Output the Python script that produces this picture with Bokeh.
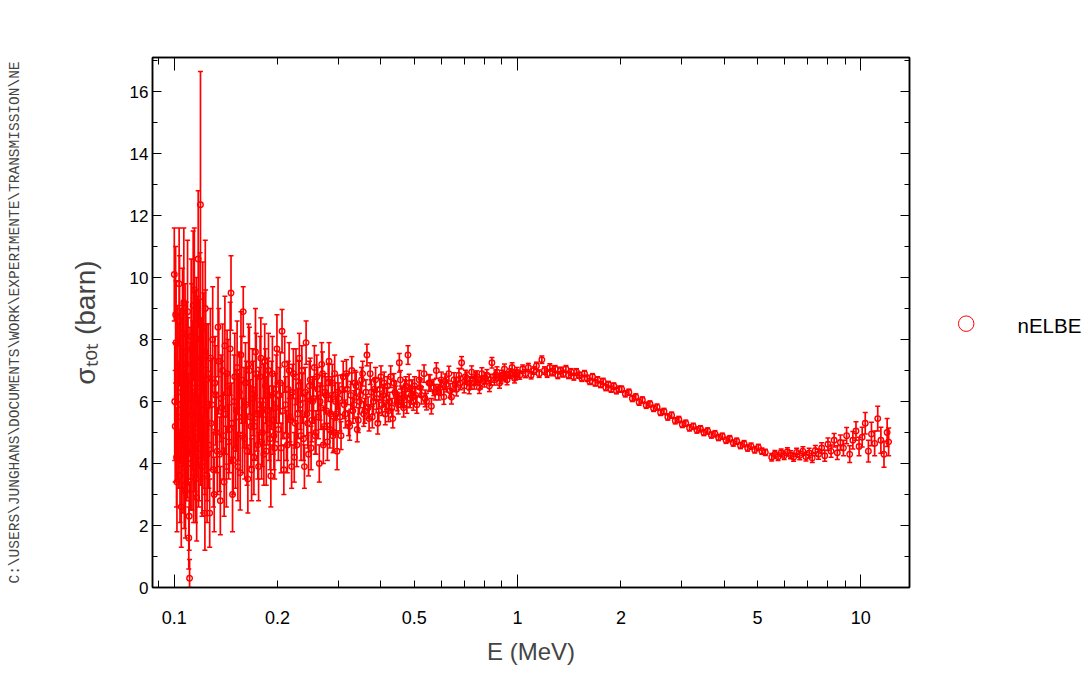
import numpy as np
from bokeh.plotting import figure
from bokeh.layouts import row
from bokeh.core.properties import value
from bokeh.models import (Range1d, LogAxis, LinearAxis, FixedTicker, SingleIntervalTicker,
                          ColumnDataSource, CustomJSTickFormatter)
from bokeh.embed import file_html
from bokeh.resources import INLINE

# ---------------- data ----------------
# segment A : 0.100 - 0.125 MeV
e_a = [0.1000, 0.1006, 0.1012, 0.1018, 0.1024, 0.1030, 0.1036, 0.1042, 0.1048, 0.1054,
       0.1060, 0.1066, 0.1072, 0.1078, 0.1084, 0.1090, 0.1096, 0.1102, 0.1108, 0.1114,
       0.1120, 0.1126, 0.1132, 0.1138, 0.1144, 0.1150, 0.1156, 0.1162, 0.1168, 0.1174,
       0.1180, 0.1186, 0.1192, 0.1198, 0.1204, 0.1210, 0.1216, 0.1222, 0.1228, 0.1234,
       0.1240, 0.1246]
s_a = [10.1, 5.2, 7.9, 3.4, 6.3, 4.6, 8.6, 5.9, 2.6, 6.8,
       4.1, 9.2, 5.4, 3.1, 7.2, 4.8, 6.1, 1.6, 0.3, 5.7,
       8.1, 4.3, 6.6, 3.7, 9.6, 5.0, 7.4, 2.9, 6.0, 10.6,
       4.5, 7.0, 12.35, 5.5, 3.9, 8.4, 6.4, 4.9, 2.4, 7.6,
       5.8, 3.6]
d_a = [1.5, 1.8, 2.0, 1.6, 2.2, 1.4, 2.1, 1.9, 1.3, 2.3,
       1.7, 2.4, 1.6, 1.5, 2.0, 1.9, 2.6, 1.0, 0.6, 2.2,
       2.5, 1.8, 2.0, 1.6, 2.0, 1.9, 2.2, 1.4, 2.1, 2.2,
       1.7, 2.3, 4.3, 2.0, 1.6, 2.1, 1.9, 1.7, 1.2, 2.0,
       1.8, 1.5]
e_a2 = [0.1003, 0.1009, 0.1015, 0.1021, 0.1027, 0.1033, 0.1039, 0.1045, 0.1051, 0.1057,
        0.1063, 0.1069, 0.1075, 0.1081, 0.1087, 0.1093, 0.1099, 0.1105, 0.1111, 0.1117,
        0.1123, 0.1129, 0.1135, 0.1141, 0.1147, 0.1153, 0.1159, 0.1165, 0.1171, 0.1177,
        0.1183, 0.1189, 0.1195, 0.1201, 0.1207, 0.1213, 0.1219, 0.1225, 0.1231, 0.1237,
        0.1243, 0.1249]
s_a2 = [6.0, 8.8, 4.2, 7.1, 5.5, 9.8, 3.6, 6.9, 4.9, 8.2,
        5.8, 3.3, 7.6, 6.2, 4.4, 8.9, 5.1, 2.3, 6.4, 4.0,
        7.7, 5.6, 9.1, 4.7, 6.3, 3.5, 8.0, 5.3, 7.3, 4.1,
        6.6, 8.6, 5.0, 6.8, 3.9, 5.9, 7.5, 4.6, 9.0, 5.4,
        6.7, 4.3]
d_a2 = [1.9, 2.2, 1.6, 2.0, 1.8, 1.8, 1.5, 2.1, 1.7, 2.1,
        1.9, 1.4, 2.2, 1.9, 1.6, 2.3, 1.8, 1.1, 2.0, 1.5,
        2.1, 1.8, 2.4, 1.6, 1.9, 1.4, 2.0, 1.7, 2.1, 1.5,
        1.9, 2.2, 1.7, 1.9, 1.5, 1.8, 2.0, 1.6, 2.2, 1.7,
        1.8, 1.5]

# segment B : 0.125 - 0.2 MeV
e_b = [0.1255, 0.1268, 0.1281, 0.1294, 0.1307, 0.1320, 0.1334, 0.1348, 0.1362, 0.1376,
       0.1390, 0.1404, 0.1418, 0.1433, 0.1448, 0.1463, 0.1478, 0.1493, 0.1508, 0.1524,
       0.1540, 0.1556, 0.1572, 0.1588, 0.1604, 0.1621, 0.1638, 0.1655, 0.1672, 0.1689,
       0.1706, 0.1724, 0.1742, 0.1760, 0.1778, 0.1796, 0.1815, 0.1834, 0.1853, 0.1872,
       0.1891, 0.1911, 0.1931, 0.1951, 0.1971, 0.1991]
s_b = [6.9, 2.4, 5.3, 8.0, 3.0, 6.2, 4.4, 7.3, 2.8, 5.8,
       4.9, 7.8, 3.9, 6.5, 5.1, 9.5, 3.0, 6.0, 4.5, 7.1,
       5.5, 3.7, 6.7, 8.9, 4.8, 5.9, 3.5, 7.0, 5.2, 6.4,
       4.2, 7.6, 5.6, 3.9, 6.8, 4.7, 5.9, 7.3, 4.4, 6.2,
       5.3, 3.6, 6.9, 4.9, 5.8, 7.7]
d_b = [1.6, 1.1, 1.5, 1.7, 1.2, 1.6, 1.4, 1.7, 1.1, 1.5,
       1.4, 1.6, 1.3, 1.5, 1.4, 1.2, 1.2, 1.5, 1.3, 1.5,
       1.4, 1.2, 1.4, 0.8, 1.3, 1.4, 1.1, 1.4, 1.3, 1.3,
       1.2, 1.4, 1.2, 1.1, 1.3, 1.2, 1.3, 1.2, 1.1, 1.2,
       1.2, 1.0, 1.2, 1.1, 1.1, 1.1]
e_b2 = [0.1261, 0.1274, 0.1287, 0.1300, 0.1313, 0.1327, 0.1341, 0.1355, 0.1369, 0.1383,
        0.1397, 0.1411, 0.1425, 0.1440, 0.1455, 0.1470, 0.1485, 0.1500, 0.1516, 0.1532,
        0.1548, 0.1564, 0.1580, 0.1596, 0.1612, 0.1629, 0.1646, 0.1663, 0.1680, 0.1697,
        0.1715, 0.1733, 0.1751, 0.1769, 0.1787, 0.1805, 0.1824, 0.1843, 0.1862, 0.1881,
        0.1901, 0.1921, 0.1941, 0.1961, 0.1981]
s_b2 = [4.6, 7.4, 5.9, 3.8, 6.6, 5.0, 8.4, 4.3, 6.1, 7.0,
        3.4, 5.6, 6.9, 4.7, 7.7, 5.3, 4.1, 6.8, 5.7, 3.9,
        6.3, 7.5, 4.9, 5.8, 6.6, 4.4, 7.2, 5.5, 3.8, 6.1,
        5.2, 6.9, 4.6, 5.9, 7.4, 5.0, 4.3, 6.5, 5.7, 7.0,
        4.8, 6.2, 5.4, 4.5, 6.4]
d_b2 = [1.4, 1.6, 1.5, 1.2, 1.5, 1.3, 1.6, 1.2, 1.4, 1.5,
        1.1, 1.3, 1.4, 1.2, 1.5, 1.3, 1.1, 1.4, 1.3, 1.1,
        1.3, 1.4, 1.2, 1.3, 1.3, 1.1, 1.3, 1.2, 1.0, 1.2,
        1.1, 1.3, 1.1, 1.2, 1.3, 1.1, 1.0, 1.2, 1.1, 1.2,
        1.0, 1.1, 1.1, 1.0, 1.1]

# segment C : 0.2 - 0.3 MeV
e_c = [0.2010, 0.2035, 0.2060, 0.2085, 0.2110, 0.2135, 0.2160, 0.2185, 0.2210, 0.2236,
       0.2262, 0.2288, 0.2314, 0.2340, 0.2367, 0.2394, 0.2421, 0.2448, 0.2475, 0.2503,
       0.2531, 0.2559, 0.2587, 0.2616, 0.2645, 0.2674, 0.2703, 0.2733, 0.2763, 0.2793,
       0.2823, 0.2854, 0.2885, 0.2916, 0.2948, 0.2980]
s_c = [5.1, 6.6, 8.27, 3.8, 5.9, 4.6, 7.0, 5.4, 6.3, 4.2,
       6.8, 5.6, 7.4, 4.9, 6.1, 3.9, 7.9, 5.3, 6.5, 4.5,
       6.0, 7.1, 5.0, 6.4, 4.0, 5.8, 6.9, 5.2, 6.2, 4.7,
       7.3, 5.6, 6.6, 5.0, 6.0, 4.4]
d_c = [1.0, 1.0, 0.7, 0.8, 0.9, 0.9, 0.9, 0.8, 0.9, 0.8,
       0.9, 0.8, 0.8, 0.8, 0.8, 0.7, 0.7, 0.8, 0.8, 0.7,
       0.7, 0.7, 0.7, 0.7, 0.6, 0.7, 0.7, 0.6, 0.6, 0.6,
       0.6, 0.6, 0.6, 0.6, 0.6, 0.6]
e_c2 = [0.2022, 0.2047, 0.2072, 0.2097, 0.2122, 0.2147, 0.2172, 0.2197, 0.2223, 0.2249,
        0.2275, 0.2301, 0.2327, 0.2353, 0.2380, 0.2407, 0.2434, 0.2461, 0.2489, 0.2517,
        0.2545, 0.2573, 0.2601, 0.2630, 0.2659, 0.2688, 0.2718, 0.2748, 0.2778, 0.2808,
        0.2838, 0.2869, 0.2900, 0.2932, 0.2964, 0.2996]
s_c2 = [6.2, 4.5, 5.7, 7.2, 4.9, 6.4, 5.5, 3.9, 6.9, 5.3,
        4.6, 6.5, 5.9, 7.0, 4.8, 6.3, 5.6, 4.3, 6.7, 5.4,
        6.1, 4.9, 6.8, 5.5, 6.0, 7.2, 4.6, 6.3, 5.7, 6.6,
        5.1, 6.2, 4.9, 6.9, 5.6, 6.3]
d_c2 = [0.9, 0.8, 0.9, 0.9, 0.8, 0.9, 0.8, 0.7, 0.8, 0.8,
        0.7, 0.8, 0.8, 0.8, 0.7, 0.8, 0.7, 0.7, 0.7, 0.7,
        0.7, 0.6, 0.7, 0.7, 0.6, 0.7, 0.6, 0.6, 0.6, 0.6,
        0.6, 0.6, 0.55, 0.6, 0.55, 0.55]

# segment D : 0.3 - 0.5 MeV
e_d = [0.3015, 0.3060, 0.3105, 0.3150, 0.3196, 0.3243, 0.3290, 0.3338, 0.3387, 0.3436,
       0.3486, 0.3537, 0.3589, 0.3641, 0.3694, 0.3748, 0.3802, 0.3858, 0.3914, 0.3971,
       0.4029, 0.4088, 0.4148, 0.4208, 0.4270, 0.4332, 0.4395, 0.4460, 0.4525, 0.4591,
       0.4658, 0.4726, 0.4795, 0.4865, 0.4936]
s_d = [6.1, 4.9, 6.8, 5.6, 6.4, 5.2, 7.0, 5.9, 6.5, 5.4,
       6.2, 6.9, 5.7, 7.5, 5.45, 6.3, 6.0, 6.7, 5.3, 6.4,
       5.9, 6.6, 6.1, 5.7, 6.8, 5.45, 6.3, 6.0, 7.25, 6.2,
       5.8, 6.5, 7.5, 6.1, 6.4]
d_d = [0.5, 0.45, 0.5, 0.45, 0.5, 0.45, 0.45, 0.45, 0.45, 0.4,
       0.4, 0.4, 0.4, 0.35, 0.4, 0.4, 0.4, 0.4, 0.35, 0.35,
       0.35, 0.35, 0.35, 0.35, 0.35, 0.3, 0.35, 0.3, 0.3, 0.3,
       0.3, 0.3, 0.3, 0.3, 0.3]
e_d2 = [0.3038, 0.3083, 0.3128, 0.3173, 0.3220, 0.3267, 0.3314, 0.3362, 0.3411, 0.3461,
        0.3512, 0.3563, 0.3615, 0.3668, 0.3721, 0.3775, 0.3830, 0.3886, 0.3943, 0.4000,
        0.4059, 0.4118, 0.4178, 0.4239, 0.4301, 0.4364, 0.4428, 0.4492, 0.4558, 0.4625,
        0.4692, 0.4760, 0.4830, 0.4900, 0.4970]
s_d2 = [5.5, 6.4, 5.9, 6.9, 5.3, 6.2, 5.7, 6.6, 5.1, 6.0,
        6.7, 5.6, 6.3, 5.8, 6.9, 5.5, 6.4, 6.1, 5.7, 6.8,
        6.2, 5.6, 6.5, 6.0, 5.8, 6.6, 6.2, 5.9, 6.7, 6.1,
        6.4, 5.9, 6.6, 6.2, 6.0]
d_d2 = [0.45, 0.45, 0.45, 0.45, 0.4, 0.45, 0.4, 0.4, 0.4, 0.4,
        0.4, 0.4, 0.4, 0.35, 0.35, 0.35, 0.35, 0.35, 0.35, 0.35,
        0.35, 0.35, 0.3, 0.3, 0.3, 0.3, 0.3, 0.3, 0.3, 0.3,
        0.3, 0.28, 0.28, 0.28, 0.28]

# segment E : 0.5 - 1.0 MeV
e_e = [0.501, 0.509, 0.517, 0.525, 0.534, 0.543, 0.552, 0.561, 0.570, 0.580,
       0.590, 0.600, 0.610, 0.620, 0.631, 0.642, 0.653, 0.664, 0.675, 0.687,
       0.699, 0.711, 0.723, 0.735, 0.748, 0.761, 0.774, 0.787, 0.800, 0.814,
       0.828, 0.842, 0.856, 0.871, 0.886, 0.901, 0.916, 0.932, 0.948, 0.964,
       0.980, 0.996]
s_e = [6.5, 5.9, 6.7, 6.2, 6.9, 6.0, 6.6, 5.85, 6.45, 7.0,
       6.3, 6.7, 6.15, 6.55, 6.9, 6.15, 6.7, 6.4, 6.85, 7.25,
       6.5, 6.75, 6.45, 6.95, 6.6, 6.8, 6.45, 6.9, 6.65, 6.85,
       6.5, 7.25, 6.7, 6.95, 6.6, 6.85, 7.05, 6.7, 6.9, 7.1,
       6.75, 6.95]
d_e = [0.3, 0.28, 0.3, 0.28, 0.28, 0.27, 0.27, 0.25, 0.26, 0.25,
       0.25, 0.25, 0.24, 0.24, 0.24, 0.23, 0.23, 0.22, 0.22, 0.2,
       0.22, 0.2, 0.2, 0.2, 0.2, 0.19, 0.19, 0.19, 0.18, 0.18,
       0.18, 0.17, 0.17, 0.17, 0.17, 0.16, 0.16, 0.16, 0.15, 0.15,
       0.15, 0.15]
e_e2 = [0.505, 0.521, 0.538, 0.556, 0.575, 0.595, 0.615, 0.636, 0.658, 0.681,
        0.705, 0.729, 0.754, 0.780, 0.807, 0.835, 0.864, 0.894, 0.924, 0.956,
        0.988]
s_e2 = [6.2, 6.45, 6.1, 6.6, 6.3, 6.45, 6.65, 6.35, 6.55, 6.6,
        6.8, 6.6, 6.75, 6.6, 6.75, 6.7, 6.85, 6.75, 6.8, 6.9,
        6.85]
d_e2 = [0.28, 0.28, 0.27, 0.26, 0.25, 0.25, 0.24, 0.23, 0.23, 0.22,
        0.21, 0.2, 0.2, 0.19, 0.18, 0.18, 0.17, 0.17, 0.16, 0.15,
        0.15]

# segment F : 1 - 2 MeV
e_f = [1.015, 1.035, 1.055, 1.075, 1.095, 1.115, 1.135, 1.156, 1.177, 1.198,
       1.220, 1.242, 1.264, 1.287, 1.310, 1.334, 1.358, 1.383, 1.408, 1.433,
       1.459, 1.485, 1.512, 1.539, 1.567, 1.595, 1.624, 1.653, 1.683, 1.713,
       1.744, 1.776, 1.808, 1.840, 1.873, 1.907, 1.941, 1.976]
s_f = [6.85, 7.05, 6.9, 7.1, 6.85, 7.0, 7.15, 6.9, 7.35, 7.0,
       6.9, 7.1, 6.95, 7.05, 6.85, 7.0, 6.9, 7.05, 6.85, 6.95,
       6.8, 6.95, 6.85, 6.75, 6.9, 6.75, 6.65, 6.8, 6.6, 6.7,
       6.55, 6.65, 6.45, 6.55, 6.4, 6.5, 6.35, 6.4]
d_f = [0.13, 0.13, 0.13, 0.13, 0.12, 0.12, 0.12, 0.12, 0.12, 0.12,
       0.12, 0.12, 0.12, 0.11, 0.11, 0.11, 0.11, 0.11, 0.11, 0.11,
       0.11, 0.11, 0.1, 0.1, 0.1, 0.1, 0.1, 0.1, 0.1, 0.1,
       0.1, 0.1, 0.1, 0.1, 0.1, 0.1, 0.1, 0.1]

# segment G : 2 - 5.3 MeV
e_g = [2.01, 2.06, 2.11, 2.16, 2.21, 2.26, 2.31, 2.37, 2.43, 2.49,
       2.55, 2.61, 2.67, 2.74, 2.81, 2.88, 2.95, 3.02, 3.09, 3.17,
       3.25, 3.33, 3.41, 3.49, 3.58, 3.67, 3.76, 3.85, 3.95, 4.05,
       4.15, 4.25, 4.35, 4.46, 4.57, 4.68, 4.79, 4.91, 5.03, 5.15,
       5.27]
s_g = [6.4, 6.25, 6.3, 6.1, 6.15, 5.98, 6.05, 5.88, 5.92, 5.78,
       5.82, 5.65, 5.68, 5.5, 5.56, 5.38, 5.42, 5.26, 5.3, 5.15,
       5.2, 5.08, 5.12, 5.0, 5.05, 4.92, 4.96, 4.84, 4.88, 4.75,
       4.8, 4.66, 4.72, 4.58, 4.64, 4.5, 4.56, 4.44, 4.52, 4.4,
       4.36]
d_g = [0.1] * 41

# segment H : 5.5 - 12 MeV
e_h = [5.50, 5.62, 5.74, 5.86, 5.98, 6.11, 6.24, 6.37, 6.50, 6.64,
       6.78, 6.92, 7.07, 7.22, 7.37, 7.53, 7.69, 7.85, 8.02, 8.19,
       8.36, 8.54, 8.72, 8.90, 9.09, 9.28, 9.48, 9.68, 9.88, 10.09,
       10.30, 10.52, 10.74, 10.97, 11.20, 11.44, 11.68, 11.93, 12.05]
s_h = [4.2, 4.3, 4.22, 4.35, 4.25, 4.38, 4.28, 4.2, 4.36, 4.26,
       4.4, 4.22, 4.34, 4.18, 4.42, 4.3, 4.5, 4.25, 4.62, 4.4,
       4.75, 4.35, 4.68, 4.5, 4.9, 4.3, 4.75, 5.05, 4.55, 4.85,
       5.3, 4.4, 4.95, 4.65, 5.45, 4.75, 4.3, 5.0, 4.7]
d_h = [0.12, 0.12, 0.12, 0.12, 0.12, 0.13, 0.13, 0.13, 0.13, 0.14,
       0.14, 0.14, 0.15, 0.15, 0.16, 0.16, 0.17, 0.18, 0.2, 0.2,
       0.22, 0.22, 0.24, 0.25, 0.26, 0.27, 0.28, 0.3, 0.3, 0.32,
       0.35, 0.35, 0.38, 0.4, 0.4, 0.42, 0.42, 0.45, 0.45]

series_label = "nELBE"
x_label = "E (MeV)"
y_label = "σₜₒₜ (barn)"
path_text = "C:\\USERS\\JUNGHANS\\DOCUMENTS\\WORK\\EXPERIMENTE\\TRANSMISSION\\NE"
x_major = [0.1, 1, 10]
x_minor = [0.09, 0.2, 0.3, 0.4, 0.5, 0.6, 0.7, 0.8, 0.9, 2, 3, 4, 5, 6, 7, 8, 9]
x_label_ticks = [0.1, 0.2, 0.5, 1, 2, 5, 10]

# ---------------- build ----------------
E = np.array(e_a + e_a2 + e_b + e_b2 + e_c + e_c2 + e_d + e_d2 + e_e + e_e2 + e_f + e_g + e_h)
S = np.array(s_a + s_a2 + s_b + s_b2 + s_c + s_c2 + s_d + s_d2 + s_e + s_e2 + s_f + s_g + s_h)
D = np.array(d_a + d_a2 + d_b + d_b2 + d_c + d_c2 + d_d + d_d2 + d_e + d_e2 + d_f + d_g + d_h)
src = ColumnDataSource(dict(x=E, y=S, lo=np.clip(S - D, 0, None), hi=S + D))

RED = "#ff0000"
TICK_FONT = "Liberation Sans"
LAB_FONT = "Liberation Sans"
PAGE_H = 680
MAIN_W = 929

p = figure(width=MAIN_W, height=PAGE_H, x_axis_type="log",
           x_range=Range1d(0.0864, 13.86), y_range=Range1d(0, 17.1),
           x_axis_location=None, y_axis_location=None,
           output_backend="svg", toolbar_location=None,
           min_border_left=152, min_border_right=20, min_border_top=57, min_border_bottom=93)
p.grid.visible = False
p.outline_line_color = "black"
p.outline_line_width = 1.5
p.background_fill_color = "white"
p.border_fill_color = "white"

# error bars + caps + open circles
p.segment(x0="x", y0="lo", x1="x", y1="hi", source=src, line_color=RED, line_width=1.7)
p.scatter(x="x", y="lo", source=src, marker="dash", size=5, line_color=RED, line_width=1.5)
p.scatter(x="x", y="hi", source=src, marker="dash", size=5, line_color=RED, line_width=1.5)
p.scatter(x="x", y="y", source=src, marker="circle", size=5.5,
          fill_color=None, line_color=RED, line_width=1.4)


def tick_only(axis):
    axis.major_label_text_font_size = "0px"
    axis.major_label_standoff = 0
    axis.major_tick_out = 0
    axis.minor_tick_out = 0
    axis.axis_line_width = 1.5
    axis.major_tick_line_width = 1
    axis.minor_tick_line_width = 1
    axis.formatter = CustomJSTickFormatter(code="return ''")
    return axis


xtick = FixedTicker(ticks=x_major, minor_ticks=x_minor)
ax_b = tick_only(LogAxis(ticker=xtick, major_tick_in=13, minor_tick_in=7))
ax_t = tick_only(LogAxis(ticker=xtick, major_tick_in=13, minor_tick_in=7))
p.add_layout(ax_b, "below")
p.add_layout(ax_t, "above")

ax_lab = LogAxis(ticker=FixedTicker(ticks=x_label_ticks, minor_ticks=[]),
                 formatter=CustomJSTickFormatter(code="return tick.toString()"),
                 major_tick_in=0, major_tick_out=0, minor_tick_in=0, minor_tick_out=0,
                 axis_line_color=None, major_label_standoff=23,
                 major_label_text_font=TICK_FONT, major_label_text_font_size="18px",
                 major_label_text_color="black",
                 axis_label=x_label, axis_label_text_font=LAB_FONT,
                 axis_label_text_font_size="24px", axis_label_text_font_style="normal",
                 axis_label_standoff=11)
p.add_layout(ax_lab, "below")

ytick = SingleIntervalTicker(interval=2, num_minor_ticks=2)
ax_l = LinearAxis(ticker=ytick, major_tick_in=9, minor_tick_in=5, major_tick_out=0, minor_tick_out=0,
                  axis_line_width=1.5, major_label_standoff=4,
                  major_label_text_font=TICK_FONT, major_label_text_font_size="17px",
                  major_label_text_color="black",
                  axis_label=y_label, axis_label_text_font=LAB_FONT,
                  axis_label_text_font_size="28px", axis_label_text_font_style="normal",
                  axis_label_standoff=26)
p.add_layout(ax_l, "left")

# outer left "axis" that only carries the file path text
ax_path = LinearAxis(ticker=FixedTicker(ticks=[]), major_tick_in=0, major_tick_out=0,
                     minor_tick_in=0, minor_tick_out=0, axis_line_color=None,
                     major_label_text_font_size="0px", major_label_standoff=0,
                     axis_label=path_text, axis_label_text_font="Liberation Mono",
                     axis_label_text_font_size="14.5px", axis_label_text_font_style="normal",
                     axis_label_standoff=44)
p.add_layout(ax_path, "left")

ax_r = tick_only(LinearAxis(ticker=ytick, major_tick_in=9, minor_tick_in=5))
p.add_layout(ax_r, "right")

# ---- legend key panel to the right of the plot (pixel coordinates, y from top) ----
LEG_W = 161
pl = figure(width=LEG_W, height=PAGE_H, x_range=Range1d(0, LEG_W), y_range=Range1d(PAGE_H, 0),
            x_axis_location=None, y_axis_location=None,
            min_border_left=0, min_border_right=0, min_border_top=0, min_border_bottom=0,
            output_backend="svg", toolbar_location=None, outline_line_color=None)
pl.grid.visible = False
key_src = ColumnDataSource(dict(mx=[36.7], my=[341.5], tx=[88.0], ty=[343.8], label=[series_label]))
pl.scatter(x="mx", y="my", source=key_src, marker="circle", size=15.5,
           fill_color=None, line_color=RED, line_width=1)
pl.text(x="tx", y="ty", text="label", source=key_src, text_baseline="middle", text_align="left",
        text_font=value(LAB_FONT), text_font_size="20.5px", text_color="black")

layout = row(p, pl)
open("out.html", "w").write(file_html(layout, INLINE))
